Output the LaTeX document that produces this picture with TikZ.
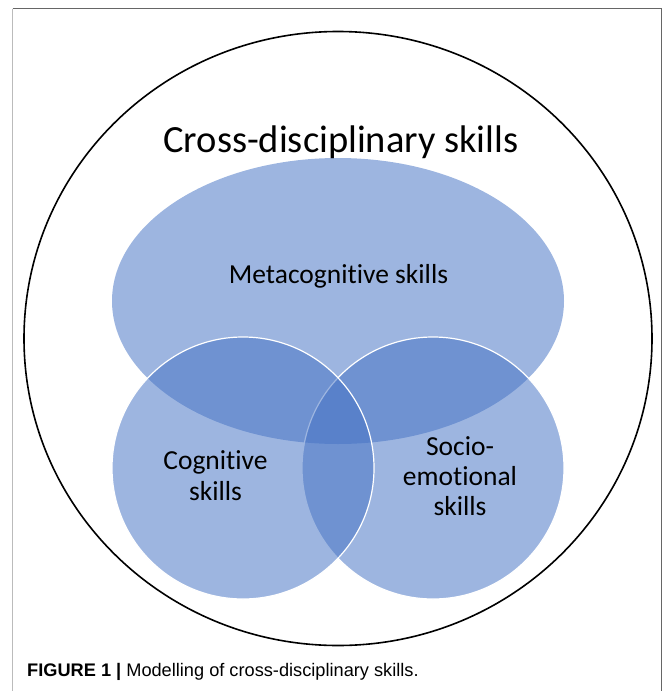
\documentclass[tikz,border=0pt]{standalone}
\usepackage{fontspec}
\setmainfont{Carlito}[Ligatures=NoCommon]
\newfontfamily\capfont{Liberation Sans}
\definecolor{accent}{HTML}{4472C4}
\definecolor{framedark}{HTML}{666666}
\definecolor{framelight}{HTML}{BBBBBB}
\tikzset{
  skillshape/.style={fill=accent, fill opacity=0.52, draw=white, draw opacity=1, line width=1.2pt},
  bigtext/.style={font=\fontsize{38.5}{46}\selectfont, inner sep=0pt},
  midtext/.style={font=\fontsize{27.5}{31}\selectfont, inner sep=0pt, align=center},
}
\begin{document}
\begin{tikzpicture}[x=1pt,y=-1pt]
\useasboundingbox (0,0) rectangle (663,691);
% frame
\draw[framelight, line width=1.5pt] (12.5,8.5) -- (12.5,691);
\draw[framedark, line width=1.5pt] (12.5,8.5) -- (661.5,8.5) -- (661.5,691);
% outer circle
\draw[black, line width=1.6pt] (338,338.5) ellipse [x radius=314, y radius=307];
% metacognitive ellipse
\fill[accent, fill opacity=0.52] (338,301) ellipse [x radius=226, y radius=143];
% circles
\draw[skillshape] (433,468) circle [radius=131];
\draw[skillshape] (243,468) circle [radius=131];
% texts
\node[bigtext, anchor=base] (title) at (341,152) {Cross-disciplinary skills};
\node[midtext, anchor=base] (meta) at (338.5,283) {Metacognitive skills};
\node[midtext, anchor=base] (cog) at (215.5,500) {Cognitive\\skills};
\node[midtext, anchor=base, font=\fontsize{27.5}{30}\selectfont] (socio) at (460,515) {Socio-\\emotional\\skills};
\node[anchor=base west, inner sep=0pt, font=\capfont\fontsize{18.2}{21}\selectfont] (caption) at (27,676) {\textbf{FIGURE 1 |} Modelling of cross-disciplinary skills.};
\end{tikzpicture}
\end{document}
